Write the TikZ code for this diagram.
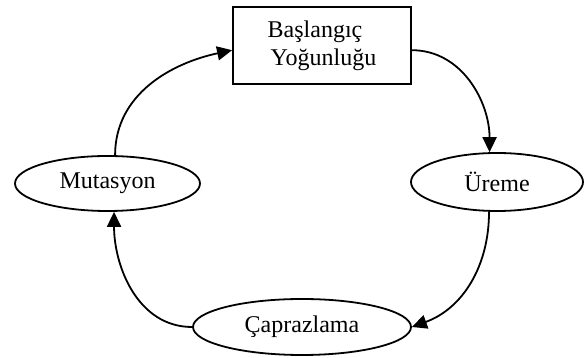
\documentclass[tikz,border=0pt]{standalone}
\usepackage{fontspec}
\setmainfont{Liberation Serif}
\usetikzlibrary{shapes.geometric,arrows.meta}
\begin{document}
\begin{tikzpicture}[x=0.5pt,y=0.5pt,
  every node/.style={font=\fontsize{12}{13.8}\selectfont},
  ell/.style={draw,ellipse,line width=0.9pt,inner sep=0pt},
  boxnode/.style={draw,rectangle,line width=0.9pt,inner sep=0pt,align=left},
  conn/.style={line width=0.9pt,-{Triangle[length=7.5pt,width=7pt]}}]
\useasboundingbox (0,0) rectangle (584,358);
\node[boxnode,minimum width=89pt,minimum height=38.5pt] (start) at (322,312.5) {Başlangıç\\\hspace*{1.5pt}Yoğunluğu};
\node[ell,minimum width=92.5pt,minimum height=27.5pt] (mut) at (107.5,174.5) {Mutasyon};
\node[ell,minimum width=86pt,minimum height=29pt] (ure) at (497,176) {Üreme};
\node[ell,minimum width=109pt,minimum height=28pt] (cap) at (302,31) {Çaprazlama};
\draw[conn] (mut.75) to[out=90,in=192] (start.183.5);
\draw[conn] (start.-3) to[out=0,in=90] (ure.104);
\draw[conn] (ure.-105) to[out=-90,in=20] (cap.east);
\draw[conn] (cap.west) to[out=180,in=-90] (mut.-77);
\end{tikzpicture}
\end{document}
